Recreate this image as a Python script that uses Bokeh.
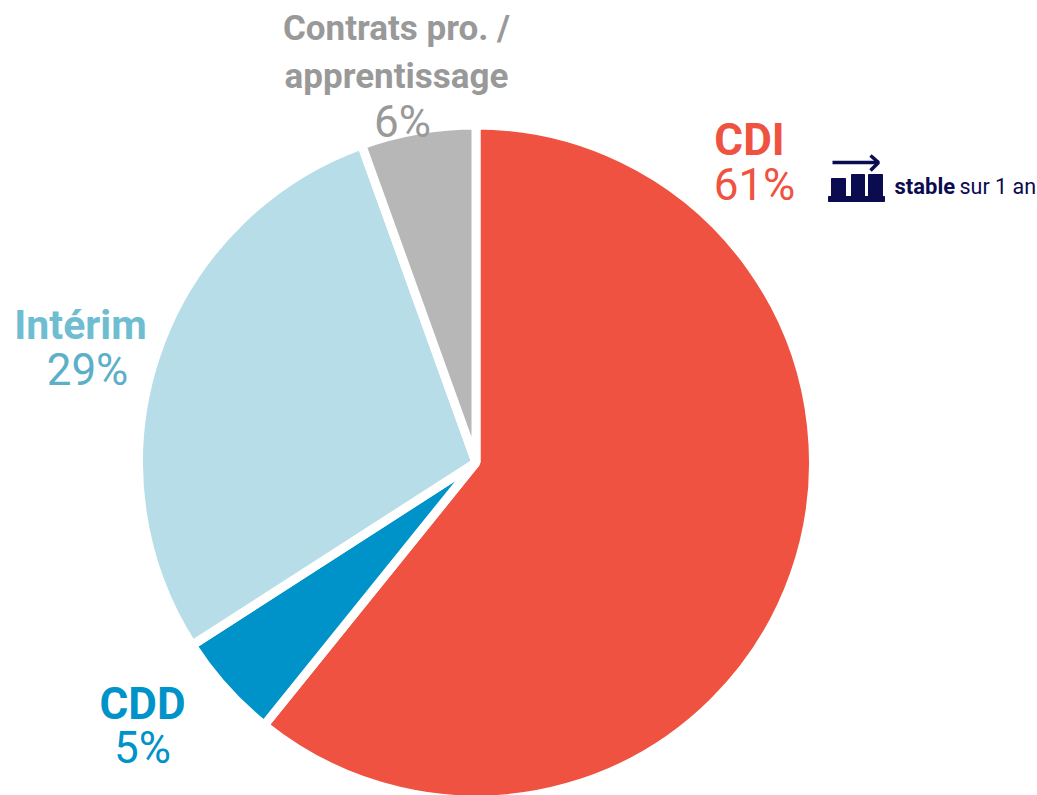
from math import pi
from bokeh.plotting import figure
from bokeh.models import ColumnDataSource, Range1d
from bokeh.core.properties import value
from bokeh.embed import file_html
from bokeh.resources import INLINE

categories = ["CDI", "CDD", "Intérim", "Contrats pro. / apprentissage"]
shares = [60.8, 5.1, 28.6, 5.5]
labels_pct = ["61%", "5%", "29%", "6%"]
colors = ["#EF5240", "#0093C9", "#B7DDE8", "#B7B7B7"]
W, H = 1037, 795
CX, CY, R = 475.5, 333.0, 337.5
FONT = "Roboto"

p = figure(width=W, height=H, output_backend="svg", toolbar_location=None,
           x_range=Range1d(0, W), y_range=Range1d(0, H),
           min_border=0, outline_line_color=None)
p.xaxis.visible = False
p.yaxis.visible = False
p.grid.visible = False

tot = sum(shares)
ends, starts = [], []
c = 0.0
for s in shares:
    starts.append(pi/2 - (c + s)/tot*2*pi)
    ends.append(pi/2 - c/tot*2*pi)
    c += s
src = ColumnDataSource(dict(start=starts, end=ends, color=colors, cat=categories, share=shares))
p.wedge(x=CX, y=CY, radius=R, start_angle="start", end_angle="end", fill_color="color",
        line_color="white", line_width=9, source=src)

def lab(x, y, t, col, bold, size):
    p.text(x=[x], y=[H-y], text=[t], text_color=col, text_font=value(FONT),
           text_font_size=f"{size}px", text_font_style="bold" if bold else "normal",
           text_align="center", text_baseline="middle")

lab(749, 139, "CDI", "#EF5240", True, 44)
lab(754, 184, labels_pct[0], "#EF5240", False, 44)
lab(142, 703, "CDD", "#0093C9", True, 44)
lab(142, 747, labels_pct[1], "#0093C9", False, 44)
lab(80, 324, "Intérim", "#6FBDD1", True, 41)
lab(87, 369, labels_pct[2], "#5BB0C8", False, 44)
lab(396, 28, "Contrats pro. /", "#999999", True, 35)
lab(396, 76, "apprentissage", "#999999", True, 35)
lab(402, 121, labels_pct[3], "#999999", False, 44)

navy = "#0B0B50"
p.quad(left=[828], right=[884], top=[H-196], bottom=[H-201], color=navy)
p.quad(left=[831, 851, 868], right=[845, 864, 882], top=[H-178, H-174, H-174], bottom=[H-197]*3, color=navy)
p.line(x=[832, 878], y=[H-162, H-162], line_color=navy, line_width=3.5)
p.line(x=[870, 878, 870], y=[H-155, H-162, H-170], line_color=navy, line_width=3.5)
p.text(x=[894], y=[H-186], text=["stable"], text_color=navy, text_font=value(FONT), text_font_size="22px",
       text_font_style="bold", text_align="left", text_baseline="middle")
p.text(x=[959], y=[H-186], text=["sur 1 an"], text_color=navy, text_font=value(FONT), text_font_size="21.5px",
       text_align="left", text_baseline="middle")

open("out.html", "w").write(file_html(p, INLINE))
